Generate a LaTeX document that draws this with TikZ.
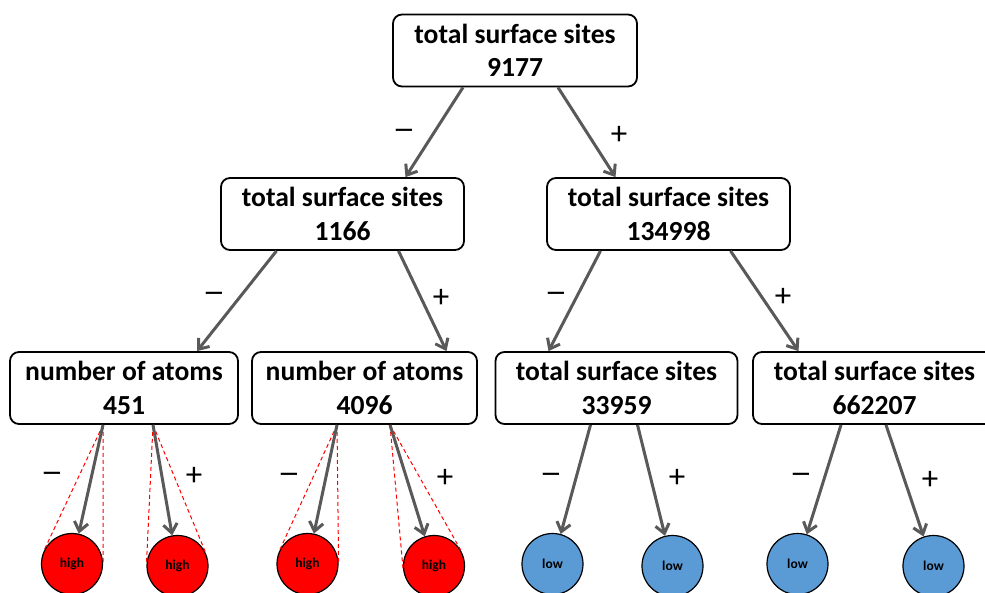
\documentclass[tikz,border=0pt]{standalone}
\usepackage{fontspec}
\setmainfont{Carlito}
\newfontfamily\minusfont{DejaVu Sans}
\usetikzlibrary{calc,arrows.meta}
\definecolor{arrowgray}{HTML}{595959}
\definecolor{lowblue}{HTML}{5B9BD5}
\begin{document}
\begin{tikzpicture}[x=1pt,y=-1pt,
  box/.style={draw=black,line width=1.8pt,rounded corners=9pt,fill=white,align=center,inner sep=0pt,minimum height=72pt,font=\fontsize{27.6}{33.5}\selectfont\bfseries},
  leaf/.style={circle,draw=black,line width=1.2pt,minimum size=61pt,inner sep=0pt,font=\fontsize{13.5}{16}\selectfont\bfseries},
  hi/.style={leaf,fill=red},
  lo/.style={leaf,fill=lowblue},
  arr/.style={draw=arrowgray,line width=3pt,-{Straight Barb[length=9pt,width=14pt]}},
  cone/.style={draw=red,line width=1pt,dash pattern=on 4pt off 3pt},
  plus/.style={font=\fontsize{33}{35}\selectfont,inner sep=0pt},
  minus/.style={font=\minusfont\fontsize{26}{30}\selectfont,inner sep=0pt}]
\useasboundingbox (0,0) rectangle (985,592);
\clip (0,0) rectangle (985,592);
% boxes
\node[box,minimum width=244pt] (top) at (515,50.5) {total surface sites\\9177};
\node[box,minimum width=243pt] (l1a) at (342.5,214) {total surface sites\\1166};
\node[box,minimum width=243pt] (l1b) at (668.5,214) {total surface sites\\134998};
\node[box,minimum width=228pt] (l2a) at (124,388) {number of atoms\\451};
\node[box,minimum width=225pt] (l2b) at (364.5,388) {number of atoms\\4096};
\node[box,minimum width=242pt] (l2c) at (616.5,388) {total surface sites\\33959};
\node[box,minimum width=243pt] (l2d) at (874.5,388) {total surface sites\\662207};
% leaves
\node[hi] (h1) at (72,564) {high};
\node[hi] (h2) at (177.5,566) {high};
\node[hi] (h3) at (307.5,564) {high};
\node[hi] (h4) at (434,566) {high};
\node[lo] (w1) at (552.5,564) {low};
\node[lo] (w2) at (672.5,566) {low};
\node[lo] (w3) at (797.5,564) {low};
\node[lo] (w4) at (933.5,566) {low};
% arrow start points on level-2 boxes
\coordinate (a1) at ($(l2a.south)+(-21,0)$);
\coordinate (a2) at ($(l2a.south)+(29,0)$);
\coordinate (a3) at ($(l2b.south)+(-27.5,0)$);
\coordinate (a4) at ($(l2b.south)+(25.5,0)$);
\coordinate (a5) at ($(l2c.south)+(-26,0)$);
\coordinate (a6) at ($(l2c.south)+(21,0)$);
\coordinate (a7) at ($(l2d.south)+(-33.5,0)$);
\coordinate (a8) at ($(l2d.south)+(11.5,0)$);
% dashed cones
\foreach \p/\c in {a1/h1,a2/h2,a3/h3,a4/h4}{
  \draw[cone] (\p) -- (tangent cs:node=\c,point={(\p)},solution=1);
  \draw[cone] (\p) -- (tangent cs:node=\c,point={(\p)},solution=2);
}
% arrows
\draw[arr] ($(top.south)+(-52,0)$) -- ($(l1a.north)+(63,0)$);
\draw[arr] ($(top.south)+(43,0)$) -- ($(l1b.north)+(-53,0)$);
\draw[arr] ($(l1a.south)+(-66,0)$) -- ($(l2a.north)+(73,0)$);
\draw[arr] ($(l1a.south)+(56,0)$) -- ($(l2b.north)+(82,0)$);
\draw[arr] ($(l1b.south)+(-68,0)$) -- ($(l2c.north)+(-68,0)$);
\draw[arr] ($(l1b.south)+(62,0)$) -- ($(l2d.north)+(-76,0)$);
\draw[arr] (a1) -- (h1);
\draw[arr] (a2) -- (h2);
\draw[arr] (a3) -- (h3);
\draw[arr] (a4) -- (h4);
\draw[arr] (a5) -- (w1);
\draw[arr] (a6) -- (w2);
\draw[arr] (a7) -- (w3);
\draw[arr] (a8) -- (w4);
% signs
\node[minus] (s1) at (404,134) {−};
\node[plus] (s2) at (619,135) {+};
\node[minus] (s3) at (214,297) {−};
\node[plus] (s4) at (441,298) {+};
\node[minus] (s5) at (556,297) {−};
\node[plus] (s6) at (783,297) {+};
\node[minus] (s7) at (52,477) {−};
\node[plus] (s8) at (194,476) {+};
\node[minus] (s9) at (289,478) {−};
\node[plus] (s10) at (445,478) {+};
\node[minus] (s11) at (551,478) {−};
\node[plus] (s12) at (677,478) {+};
\node[minus] (s13) at (801,478) {−};
\node[plus] (s14) at (930,480) {+};
\end{tikzpicture}
\end{document}
